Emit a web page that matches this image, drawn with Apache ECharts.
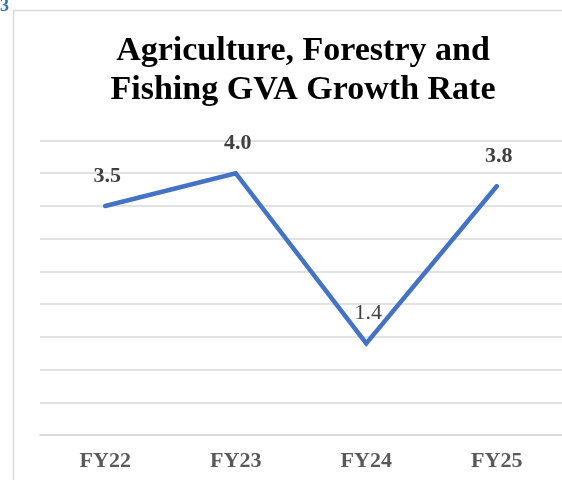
<!DOCTYPE html>
<html>
<head>
<meta charset="utf-8">
<script src="https://cdn.jsdelivr.net/npm/echarts@6/dist/echarts.min.js"></script>
<style>
html,body{margin:0;padding:0;background:#fff;}
#main{width:562px;height:480px;}
</style>
</head>
<body>
<div id="main"></div>
<script>
const categories = ['FY22', 'FY23', 'FY24', 'FY25'];
const growthRate = [3.5, 4.0, 1.4, 3.8];
const titleLines = ['Agriculture, Forestry and', 'Fishing GVA Growth Rate'];
const cornerText = '3';

const serif = "'Liberation Serif', 'Times New Roman', serif";
const chart = echarts.init(document.getElementById('main'), null, {renderer: 'canvas'});

chart.setOption({
  backgroundColor: '#ffffff',
  animation: false,
  graphic: [
    {
      type: 'rect',
      shape: {x: 13.5, y: 10.5, width: 600, height: 500},
      style: {fill: 'none', stroke: '#d9d9d9', lineWidth: 1.5},
      silent: true, z: -10
    }
  ],
  title: [
    {
      text: titleLines.join('\n'),
      left: 303, textAlign: 'center',
      top: 31,
      padding: 0,
      textStyle: {fontFamily: serif, fontWeight: 'bold', fontSize: 34, lineHeight: 39.5, color: '#000000'}
    },
    {
      text: cornerText,
      left: 0, top: -3,
      padding: 0,
      textStyle: {fontFamily: serif, fontWeight: 'bold', fontSize: 18, color: '#2e74b5'}
    }
  ],
  grid: {left: 40, width: 524, top: 140.5, bottom: 45, containLabel: false},
  xAxis: {
    type: 'category',
    data: categories,
    boundaryGap: true,
    axisLine: {show: true, lineStyle: {color: '#d9d9d9', width: 1.5}},
    axisTick: {show: false},
    axisLabel: {fontFamily: serif, fontWeight: 'bold', fontSize: 22, color: '#595959', margin: 15}
  },
  yAxis: {
    type: 'value',
    min: 0, max: 4.5, interval: 0.5,
    axisLine: {show: false},
    axisTick: {show: false},
    axisLabel: {show: false},
    splitLine: {lineStyle: {color: '#d9d9d9', width: 1.5}}
  },
  series: [{
    type: 'line',
    data: growthRate.map((v, i) => i === 2
      ? {value: v, label: {fontWeight: 'normal'}}
      : v),
    symbol: 'circle',
    symbolSize: 4,
    showSymbol: true,
    itemStyle: {color: '#4472C4'},
    lineStyle: {color: '#4472C4', width: 4.5, cap: 'round', join: 'miter'},
    label: {
      show: true,
      position: 'top',
      distance: 17,
      offset: [2, 0],
      formatter: p => p.value.toFixed(1),
      fontFamily: serif, fontWeight: 'bold', fontSize: 22, color: '#404040'
    }
  }]
});
</script>
</body>
</html>
